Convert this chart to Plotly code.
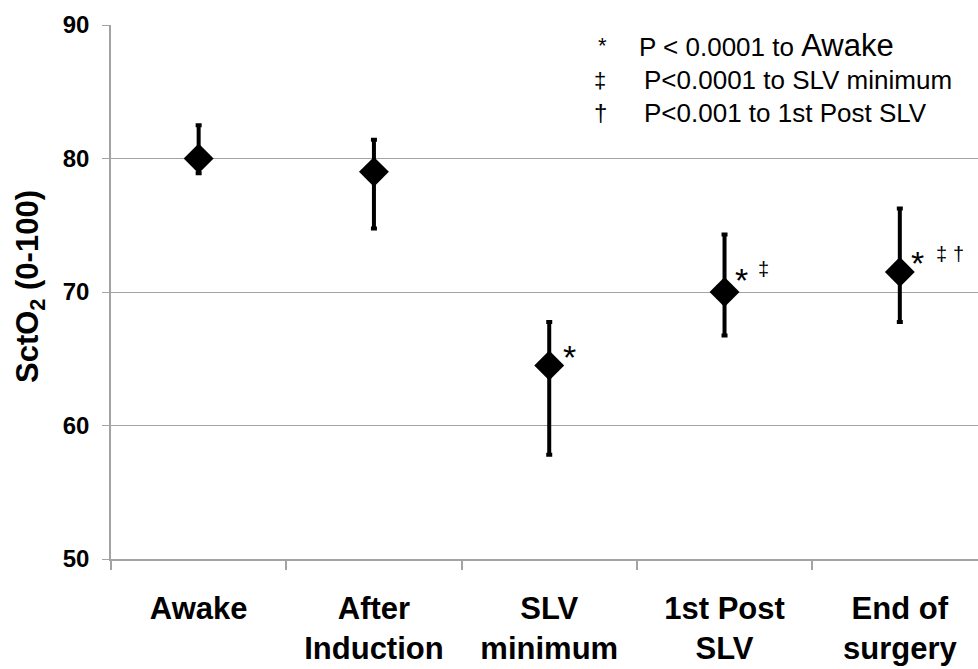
import plotly.graph_objects as go

# Time points and cerebral oxygen saturation (mean with asymmetric range)
categories = ["Awake", "After<br>Induction", "SLV<br>minimum", "1st Post<br>SLV", "End of<br>surgery"]
sct_mean = [80.0, 79.0, 64.5, 70.0, 71.5]
sct_upper = [82.5, 81.4, 67.75, 74.3, 76.25]
sct_lower = [78.9, 74.75, 57.8, 66.75, 67.75]

# Significance symbols drawn beside each point
sig_marks = {
    "SLV<br>minimum": ["*"],
    "1st Post<br>SLV": ["*", "‡"],
    "End of<br>surgery": ["*", "‡", "†"],
}

# Key for the symbols
key_symbols = ["*", "‡", "†"]
key_texts = [
    "P < 0.0001 to <span style='font-size:31px'>Awake</span>",
    "P<0.0001 to SLV minimum",
    "P<0.001 to 1st Post SLV",
]

FONT = "Arial, Liberation Sans, sans-serif"
GRID = "#a3a3a3"

err_plus = [u - m for u, m in zip(sct_upper, sct_mean)]
err_minus = [m - l for m, l in zip(sct_mean, sct_lower)]

fig = go.Figure()
fig.add_trace(go.Scatter(
    x=categories, y=sct_mean, mode="markers",
    marker=dict(symbol="diamond", size=23, color="black", line=dict(width=0)),
    error_y=dict(type="data", symmetric=False, array=err_plus, arrayminus=err_minus,
                 color="black", thickness=4, width=3),
    showlegend=False, cliponaxis=False,
))

L, T, W, H = 111, 25, 978, 669
B = 559
pw, ph = W - L, B - T


def px(xpix):
    return (xpix - L) / pw


def py(ypix):
    return (B - ypix) / ph


annotations = []

# pixel offsets of each symbol from its point: (dx, dy, font size)
offsets = {
    ("SLV<br>minimum", "*"): (20, 8, 34),
    ("1st Post<br>SLV", "*"): (17, 12, 34),
    ("1st Post<br>SLV", "‡"): (39, 23, 20),
    ("End of<br>surgery", "*"): (18, 9, 34),
    ("End of<br>surgery", "‡"): (42, 18, 20),
    ("End of<br>surgery", "†"): (59, 18, 20),
}
for cat, syms in sig_marks.items():
    i = categories.index(cat)
    for s in syms:
        dx, dy, fs = offsets[(cat, s)]
        annotations.append(dict(
            x=cat, y=sct_mean[i], xref="x", yref="y", text=s, showarrow=False,
            xshift=dx, yshift=dy, xanchor="center", yanchor="middle",
            font=dict(family=FONT, size=fs, color="black"),
        ))

# key in the upper right
key_rows_y = [46, 80, 113]
sym_x = [602, 600, 600]
txt_x = [637, 642, 642]
sym_sizes = [22, 22, 24]
for s, t, yy, sx, tx, ss in zip(key_symbols, key_texts, key_rows_y, sym_x, txt_x, sym_sizes):
    annotations.append(dict(
        x=px(sx), y=py(yy), xref="paper", yref="paper", text=s, showarrow=False,
        xanchor="center", yanchor="middle", font=dict(family=FONT, size=ss, color="black"),
    ))
    annotations.append(dict(
        x=px(tx), y=py(yy), xref="paper", yref="paper", text=t, showarrow=False,
        xanchor="left", yanchor="middle", font=dict(family=FONT, size=26, color="black"),
    ))

# y-axis title
annotations.append(dict(
    x=px(30), y=py(287), xref="paper", yref="paper", text="SctO<sub>2</sub> (0-100)",
    showarrow=False, textangle=-90, xanchor="center", yanchor="middle",
    font=dict(family=FONT, size=31, color="black", weight="bold"),
))

fig.update_layout(
    width=W, height=H,
    margin=dict(l=L, r=0, t=T, b=H - B, pad=0),
    plot_bgcolor="white", paper_bgcolor="white",
    annotations=annotations,
    xaxis=dict(
        type="category", range=[-0.5, 4.446], showgrid=False, zeroline=False,
        showline=True, linecolor=GRID, linewidth=1.5,
        ticks="outside", tickson="boundaries", ticklen=9, tickcolor=GRID, tickwidth=1.5,
        tickfont=dict(family=FONT, size=31, color="black", weight="bold"),
        ticklabelstandoff=21,
    ),
    yaxis=dict(
        range=[50, 90], tickvals=[50, 60, 70, 80, 90], showgrid=True, gridcolor=GRID,
        gridwidth=1.3, zeroline=False, showline=True, linecolor=GRID, linewidth=1.5,
        ticks="outside", ticklen=7, tickcolor=GRID, tickwidth=1.3,
        tickfont=dict(family=FONT, size=24, color="black", weight="bold"),
        ticklabelstandoff=8,
    ),
)

fig.write_html("out.html")
